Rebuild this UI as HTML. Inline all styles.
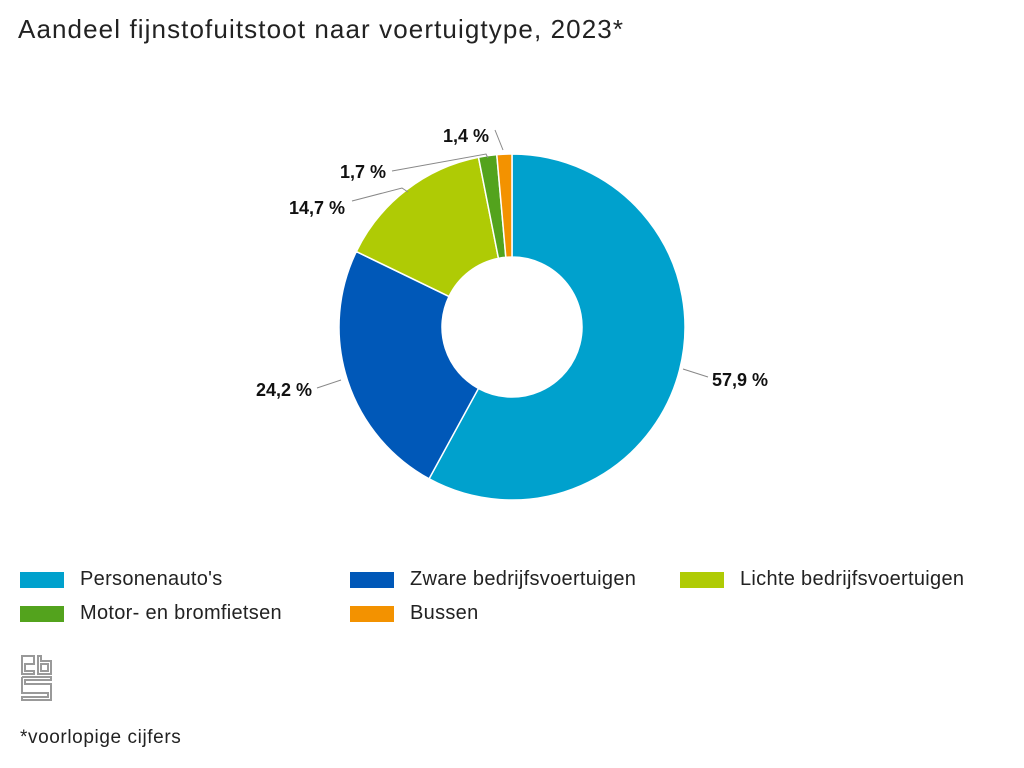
<!DOCTYPE html>
<html><head><meta charset="utf-8"><style>
body{margin:0;background:#fff;width:1024px;height:768px;overflow:hidden;font-family:"Liberation Sans",Arial,sans-serif;}
.t{position:absolute;left:18px;top:14px;font-size:26px;letter-spacing:1.1px;color:#222;}
.lg{position:absolute;font-size:20px;letter-spacing:0.3px;color:#222;}
.sw{position:absolute;width:44px;height:16px;}
</style></head><body>
<div class="t">Aandeel fijnstofuitstoot naar voertuigtype, 2023*</div>
<svg id="c" width="1024" height="768" style="position:absolute;left:0;top:0">
<g id="pie"></g>
<g stroke="#888" stroke-width="1" fill="none">
<polyline points="683,369 708,377"/>
<polyline points="317,388 341,380"/>
<polyline points="352,201 402,188 408,192"/>
<polyline points="392,171 486,154 488,158"/>
<polyline points="495,130 503,150"/>
</g>
<g font-family="Liberation Sans,Arial,sans-serif" font-weight="bold" font-size="18" fill="#111">
<text x="712" y="386">57,9 %</text>
<text x="256" y="396">24,2 %</text>
<text x="289" y="214">14,7 %</text>
<text x="340" y="178">1,7 %</text>
<text x="443" y="142">1,4 %</text>
</g>
<g fill="none" stroke="#999" stroke-width="2">
<path d="M22 656 h12 v8 h-9 v7 h9 v3 h-12 z"/>
<path d="M38 656 h3 v5 h10 v13 h-13 z"/>
<path d="M41 664 h7 v7 h-7 z"/>
<path d="M22 677 h29 v3 h-26 v4 h26 v16 h-29 v-3 h26 v-4 h-26 v-16"/>
</g>
</svg>
<div class="sw" style="left:20px;top:572px;background:#00a1cd"></div><div class="lg" style="left:80px;top:568px">Personenauto's</div>
<div class="sw" style="left:350px;top:572px;background:#0058b8"></div><div class="lg" style="left:410px;top:568px">Zware bedrijfsvoertuigen</div>
<div class="sw" style="left:680px;top:572px;background:#afcb05"></div><div class="lg" style="left:740px;top:568px">Lichte bedrijfsvoertuigen</div>
<div class="sw" style="left:20px;top:606px;background:#53a31d"></div><div class="lg" style="left:80px;top:602px">Motor- en bromfietsen</div>
<div class="sw" style="left:350px;top:606px;background:#f39200"></div><div class="lg" style="left:410px;top:602px">Bussen</div>
<div class="lg" style="left:20px;top:727px;font-size:19px;letter-spacing:0.6px">*voorlopige cijfers</div>
<script>
var cx=512,cy=327,R=173,r=70;
var d=[[57.9,'#00a1cd'],[24.2,'#0058b8'],[14.7,'#afcb05'],[1.7,'#53a31d'],[1.4,'#f39200']];
var tot=99.9,a=0,h='';
function p(rad,ang){return (cx+rad*Math.sin(ang)).toFixed(2)+','+(cy-rad*Math.cos(ang)).toFixed(2);}
d.forEach(function(s){var b=a+s[0]/tot*2*Math.PI;var l=(b-a)>Math.PI?1:0;
h+='<path d="M'+p(R,a)+' A'+R+','+R+' 0 '+l+' 1 '+p(R,b)+' L'+p(r,b)+' A'+r+','+r+' 0 '+l+' 0 '+p(r,a)+' Z" fill="'+s[1]+'" stroke="#fff" stroke-width="1.5"/>';a=b;});
document.getElementById('pie').innerHTML=h;
</script>
</body></html>
